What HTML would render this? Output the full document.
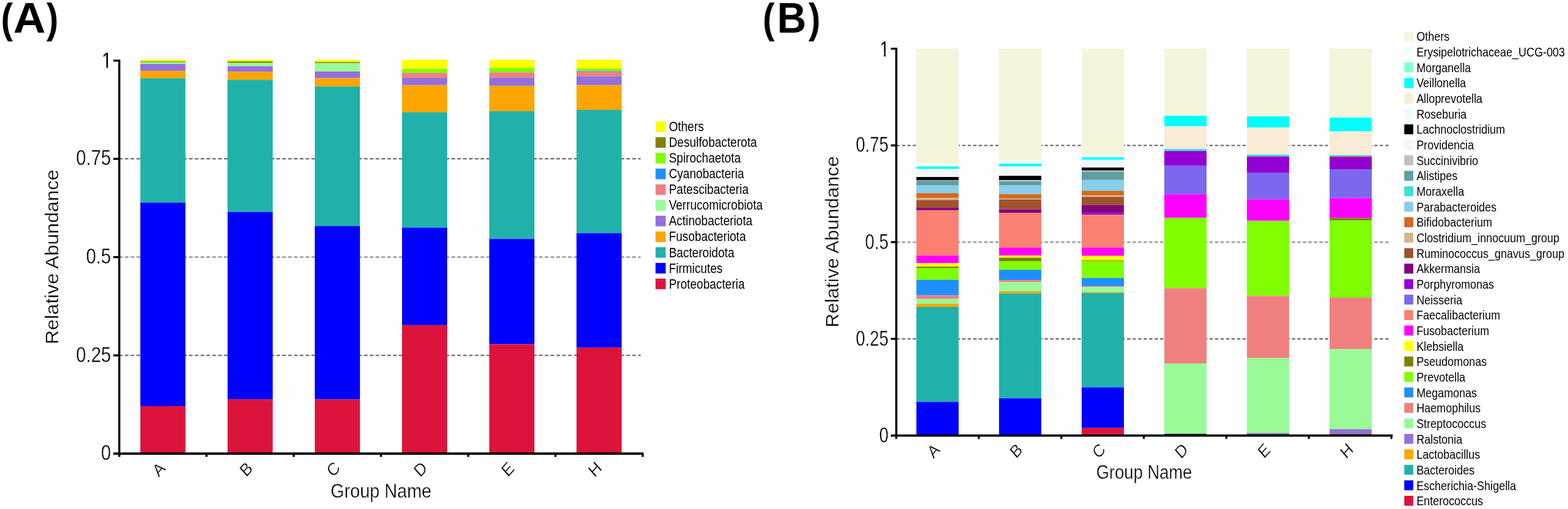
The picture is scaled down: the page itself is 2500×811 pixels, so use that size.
<!DOCTYPE html>
<html lang="en">
<head>
<meta charset="utf-8">
<title>Relative abundance of gut microbiota by group</title>
<style>
html,body{margin:0;padding:0;background:#fff;}
body{width:2500px;height:811px;overflow:hidden;}
svg{display:block;font-family:"Liberation Sans",sans-serif;}
svg rect{shape-rendering:auto;}
</style>
</head>
<body>
<svg width="2500" height="811" viewBox="0 0 2500 811">
<rect x="0" y="0" width="2500" height="811" fill="#ffffff"/>
<g id="chartA">
<line x1="189.60" y1="253.10" x2="1021.50" y2="253.10" stroke="#666666" stroke-width="2.0" stroke-dasharray="5.9 3.4"/>
<line x1="189.60" y1="409.65" x2="1021.50" y2="409.65" stroke="#a2a2a2" stroke-width="2.8" stroke-dasharray="5.9 3.4"/>
<line x1="189.60" y1="566.20" x2="1021.50" y2="566.20" stroke="#666666" stroke-width="2.0" stroke-dasharray="5.9 3.4"/>
<rect x="223.70" y="95.10" width="72.00" height="2.90" fill="#FFFF00"/>
<rect x="223.70" y="98.00" width="72.00" height="1.10" fill="#808000"/>
<rect x="223.70" y="99.10" width="72.00" height="2.90" fill="#98FB98"/>
<rect x="223.70" y="102.00" width="72.00" height="10.90" fill="#9370DB"/>
<rect x="223.70" y="112.90" width="72.00" height="11.90" fill="#FFA500"/>
<rect x="223.70" y="124.80" width="72.00" height="198.10" fill="#20B2AA"/>
<rect x="223.70" y="322.90" width="72.00" height="324.10" fill="#0000FF"/>
<rect x="223.70" y="647.00" width="72.00" height="75.75" fill="#DC143C"/>
<rect x="362.80" y="95.10" width="72.00" height="2.90" fill="#FFFF00"/>
<rect x="362.80" y="98.00" width="72.00" height="2.10" fill="#808000"/>
<rect x="362.80" y="100.10" width="72.00" height="5.40" fill="#98FB98"/>
<rect x="362.80" y="105.50" width="72.00" height="9.00" fill="#9370DB"/>
<rect x="362.80" y="114.50" width="72.00" height="12.70" fill="#FFA500"/>
<rect x="362.80" y="127.20" width="72.00" height="210.50" fill="#20B2AA"/>
<rect x="362.80" y="337.70" width="72.00" height="298.40" fill="#0000FF"/>
<rect x="362.80" y="636.10" width="72.00" height="86.65" fill="#DC143C"/>
<rect x="501.90" y="95.10" width="72.00" height="3.70" fill="#FFFF00"/>
<rect x="501.90" y="98.80" width="72.00" height="1.80" fill="#808000"/>
<rect x="501.90" y="100.60" width="72.00" height="13.40" fill="#98FB98"/>
<rect x="501.90" y="114.00" width="72.00" height="10.50" fill="#9370DB"/>
<rect x="501.90" y="124.50" width="72.00" height="13.30" fill="#FFA500"/>
<rect x="501.90" y="137.80" width="72.00" height="222.40" fill="#20B2AA"/>
<rect x="501.90" y="360.20" width="72.00" height="276.20" fill="#0000FF"/>
<rect x="501.90" y="636.40" width="72.00" height="86.35" fill="#DC143C"/>
<rect x="641.00" y="95.10" width="72.00" height="14.60" fill="#FFFF00"/>
<rect x="641.00" y="109.70" width="72.00" height="6.40" fill="#7FFF00"/>
<rect x="641.00" y="116.10" width="72.00" height="7.90" fill="#F08080"/>
<rect x="641.00" y="124.00" width="72.00" height="11.70" fill="#9370DB"/>
<rect x="641.00" y="135.70" width="72.00" height="43.30" fill="#FFA500"/>
<rect x="641.00" y="179.00" width="72.00" height="183.70" fill="#20B2AA"/>
<rect x="641.00" y="362.70" width="72.00" height="155.20" fill="#0000FF"/>
<rect x="641.00" y="517.90" width="72.00" height="204.85" fill="#DC143C"/>
<rect x="780.10" y="95.10" width="72.00" height="12.90" fill="#FFFF00"/>
<rect x="780.10" y="108.00" width="72.00" height="7.30" fill="#7FFF00"/>
<rect x="780.10" y="115.30" width="72.00" height="8.40" fill="#F08080"/>
<rect x="780.10" y="123.70" width="72.00" height="13.10" fill="#9370DB"/>
<rect x="780.10" y="136.80" width="72.00" height="40.30" fill="#FFA500"/>
<rect x="780.10" y="177.10" width="72.00" height="203.50" fill="#20B2AA"/>
<rect x="780.10" y="380.60" width="72.00" height="167.90" fill="#0000FF"/>
<rect x="780.10" y="548.50" width="72.00" height="174.25" fill="#DC143C"/>
<rect x="919.20" y="95.10" width="72.00" height="13.80" fill="#FFFF00"/>
<rect x="919.20" y="108.90" width="72.00" height="4.50" fill="#7FFF00"/>
<rect x="919.20" y="113.40" width="72.00" height="1.40" fill="#7B68EE"/>
<rect x="919.20" y="114.80" width="72.00" height="6.60" fill="#F08080"/>
<rect x="919.20" y="121.40" width="72.00" height="14.30" fill="#9370DB"/>
<rect x="919.20" y="135.70" width="72.00" height="39.30" fill="#FFA500"/>
<rect x="919.20" y="175.00" width="72.00" height="196.50" fill="#20B2AA"/>
<rect x="919.20" y="371.50" width="72.00" height="182.30" fill="#0000FF"/>
<rect x="919.20" y="553.80" width="72.00" height="168.95" fill="#DC143C"/>
<rect x="188.45" y="94.95" width="3.40" height="629.70" fill="#000"/>
<rect x="188.45" y="720.85" width="837.55" height="3.80" fill="#000"/>
<rect x="180.65" y="94.95" width="9.50" height="3.30" fill="#000"/>
<rect x="180.65" y="251.45" width="9.50" height="3.30" fill="#000"/>
<rect x="180.65" y="408.00" width="9.50" height="3.30" fill="#000"/>
<rect x="180.65" y="564.55" width="9.50" height="3.30" fill="#000"/>
<rect x="180.65" y="720.85" width="9.50" height="3.80" fill="#000"/>
<rect x="188.45" y="722.75" width="3.40" height="5.20" fill="#000"/>
<rect x="327.55" y="722.75" width="3.40" height="5.20" fill="#000"/>
<rect x="466.65" y="722.75" width="3.40" height="5.20" fill="#000"/>
<rect x="605.75" y="722.75" width="3.40" height="5.20" fill="#000"/>
<rect x="744.85" y="722.75" width="3.40" height="5.20" fill="#000"/>
<rect x="883.95" y="722.75" width="3.40" height="5.20" fill="#000"/>
<rect x="1023.05" y="722.75" width="3.40" height="5.20" fill="#000"/>
<text transform="translate(178.30 107.90) scale(0.803 1.0)" font-size="35.8" text-anchor="end" fill="#000">1</text>
<g transform="translate(178.30 107.90) scale(0.803 1)" fill="#fff"><rect x="-20.76" y="-4.65" width="9.74" height="6.09"/><rect x="-7.66" y="-4.65" width="8.95" height="6.09"/></g>
<text transform="translate(177.10 263.40) scale(0.803 1.0)" font-size="35.8" text-anchor="end" fill="#000" stroke="#fff" stroke-width="0.35" vector-effect="non-scaling-stroke">0.75</text>
<text transform="translate(177.10 419.95) scale(0.803 1.0)" font-size="35.8" text-anchor="end" fill="#000" stroke="#fff" stroke-width="0.35" vector-effect="non-scaling-stroke">0.5</text>
<text transform="translate(177.10 576.50) scale(0.803 1.0)" font-size="35.8" text-anchor="end" fill="#000" stroke="#fff" stroke-width="0.35" vector-effect="non-scaling-stroke">0.25</text>
<text transform="translate(177.10 733.05) scale(0.803 1.0)" font-size="35.8" text-anchor="end" fill="#000" stroke="#fff" stroke-width="0.35" vector-effect="non-scaling-stroke">0</text>
<text transform="translate(259.25 754.35) scale(0.9 1) rotate(-45)" font-size="28" text-anchor="middle" fill="#000" stroke="#fff" stroke-width="0.35" vector-effect="non-scaling-stroke">A</text>
<text transform="translate(398.35 754.35) scale(0.9 1) rotate(-45)" font-size="28" text-anchor="middle" fill="#000" stroke="#fff" stroke-width="0.35" vector-effect="non-scaling-stroke">B</text>
<text transform="translate(537.45 754.35) scale(0.9 1) rotate(-45)" font-size="28" text-anchor="middle" fill="#000" stroke="#fff" stroke-width="0.35" vector-effect="non-scaling-stroke">C</text>
<text transform="translate(676.55 754.35) scale(0.9 1) rotate(-45)" font-size="28" text-anchor="middle" fill="#000" stroke="#fff" stroke-width="0.35" vector-effect="non-scaling-stroke">D</text>
<text transform="translate(815.65 754.35) scale(0.9 1) rotate(-45)" font-size="28" text-anchor="middle" fill="#000" stroke="#fff" stroke-width="0.35" vector-effect="non-scaling-stroke">E</text>
<text transform="translate(954.75 754.35) scale(0.9 1) rotate(-45)" font-size="28" text-anchor="middle" fill="#000" stroke="#fff" stroke-width="0.35" vector-effect="non-scaling-stroke">H</text>
<text transform="translate(527.00 793.00) scale(0.893 1.0)" font-size="31.5" fill="#000" stroke="#fff" stroke-width="0.35" vector-effect="non-scaling-stroke">Group Name</text>
<text transform="translate(93.30 548.50) rotate(-90) scale(1.044 1.0)" font-size="30" fill="#000" stroke="#fff" stroke-width="0.35" vector-effect="non-scaling-stroke">Relative Abundance</text>
</g>
<g id="legendA">
<rect x="1045.20" y="193.60" width="16.20" height="16.90" fill="#FFFF00"/>
<text transform="translate(1066.40 208.90) scale(0.873 1.0)" font-size="21.3" fill="#000">Others</text>
<rect x="1045.20" y="218.63" width="16.20" height="16.90" fill="#808000"/>
<text transform="translate(1066.40 233.98) scale(0.873 1.0)" font-size="21.3" fill="#000">Desulfobacterota</text>
<rect x="1045.20" y="243.66" width="16.20" height="16.90" fill="#7FFF00"/>
<text transform="translate(1066.40 259.06) scale(0.873 1.0)" font-size="21.3" fill="#000">Spirochaetota</text>
<rect x="1045.20" y="268.69" width="16.20" height="16.90" fill="#1E90FF"/>
<text transform="translate(1066.40 284.14) scale(0.873 1.0)" font-size="21.3" fill="#000">Cyanobacteria</text>
<rect x="1045.20" y="293.72" width="16.20" height="16.90" fill="#F08080"/>
<text transform="translate(1066.40 309.22) scale(0.873 1.0)" font-size="21.3" fill="#000">Patescibacteria</text>
<rect x="1045.20" y="318.75" width="16.20" height="16.90" fill="#98FB98"/>
<text transform="translate(1066.40 334.30) scale(0.873 1.0)" font-size="21.3" fill="#000">Verrucomicrobiota</text>
<rect x="1045.20" y="343.78" width="16.20" height="16.90" fill="#9370DB"/>
<text transform="translate(1066.40 359.38) scale(0.873 1.0)" font-size="21.3" fill="#000">Actinobacteriota</text>
<rect x="1045.20" y="368.81" width="16.20" height="16.90" fill="#FFA500"/>
<text transform="translate(1066.40 384.46) scale(0.873 1.0)" font-size="21.3" fill="#000">Fusobacteriota</text>
<rect x="1045.20" y="393.84" width="16.20" height="16.90" fill="#20B2AA"/>
<text transform="translate(1066.40 409.54) scale(0.873 1.0)" font-size="21.3" fill="#000">Bacteroidota</text>
<rect x="1045.20" y="418.87" width="16.20" height="16.90" fill="#0000FF"/>
<text transform="translate(1066.40 434.62) scale(0.873 1.0)" font-size="21.3" fill="#000">Firmicutes</text>
<rect x="1045.20" y="443.90" width="16.20" height="16.90" fill="#DC143C"/>
<text transform="translate(1066.40 459.70) scale(0.873 1.0)" font-size="21.3" fill="#000">Proteobacteria</text>
</g>
<g id="chartB">
<line x1="1429.00" y1="231.70" x2="2216.50" y2="231.70" stroke="#666666" stroke-width="2.0" stroke-dasharray="5.4 3.36"/>
<line x1="1429.00" y1="385.80" x2="2216.50" y2="385.80" stroke="#a2a2a2" stroke-width="2.8" stroke-dasharray="5.4 3.36"/>
<line x1="1429.00" y1="539.90" x2="2216.50" y2="539.90" stroke="#666666" stroke-width="2.0" stroke-dasharray="5.4 3.36"/>
<rect x="1461.10" y="77.60" width="67.40" height="182.80" fill="#F5F5DC"/>
<rect x="1461.10" y="260.40" width="67.40" height="4.80" fill="#F0FFFF"/>
<rect x="1461.10" y="265.20" width="67.40" height="4.10" fill="#00FFFF"/>
<rect x="1461.10" y="269.30" width="67.40" height="12.70" fill="#F0F8FF"/>
<rect x="1461.10" y="282.00" width="67.40" height="5.30" fill="#000000"/>
<rect x="1461.10" y="287.30" width="67.40" height="0.80" fill="#BEBEBE"/>
<rect x="1461.10" y="288.10" width="67.40" height="7.50" fill="#5F9EA0"/>
<rect x="1461.10" y="295.60" width="67.40" height="12.10" fill="#87CEEB"/>
<rect x="1461.10" y="307.70" width="67.40" height="7.30" fill="#D2691E"/>
<rect x="1461.10" y="315.00" width="67.40" height="3.60" fill="#D2B48C"/>
<rect x="1461.10" y="318.60" width="67.40" height="12.50" fill="#A0522D"/>
<rect x="1461.10" y="331.10" width="67.40" height="3.80" fill="#800080"/>
<rect x="1461.10" y="334.90" width="67.40" height="72.30" fill="#FA8072"/>
<rect x="1461.10" y="407.20" width="67.40" height="12.20" fill="#FF00FF"/>
<rect x="1461.10" y="419.40" width="67.40" height="5.40" fill="#FFFF00"/>
<rect x="1461.10" y="424.80" width="67.40" height="2.30" fill="#808000"/>
<rect x="1461.10" y="427.10" width="67.40" height="18.70" fill="#7FFF00"/>
<rect x="1461.10" y="445.80" width="67.40" height="24.90" fill="#1E90FF"/>
<rect x="1461.10" y="470.70" width="67.40" height="5.40" fill="#F08080"/>
<rect x="1461.10" y="476.10" width="67.40" height="8.00" fill="#98FB98"/>
<rect x="1461.10" y="484.10" width="67.40" height="4.90" fill="#FFA500"/>
<rect x="1461.10" y="489.00" width="67.40" height="151.30" fill="#20B2AA"/>
<rect x="1461.10" y="640.30" width="67.40" height="53.70" fill="#0000FF"/>
<rect x="1592.84" y="77.60" width="67.40" height="178.40" fill="#F5F5DC"/>
<rect x="1592.84" y="256.00" width="67.40" height="4.80" fill="#F0FFFF"/>
<rect x="1592.84" y="260.80" width="67.40" height="4.20" fill="#00FFFF"/>
<rect x="1592.84" y="265.00" width="67.40" height="15.10" fill="#F0F8FF"/>
<rect x="1592.84" y="280.10" width="67.40" height="7.00" fill="#000000"/>
<rect x="1592.84" y="287.10" width="67.40" height="1.30" fill="#F0F8FF"/>
<rect x="1592.84" y="288.40" width="67.40" height="7.20" fill="#5F9EA0"/>
<rect x="1592.84" y="295.60" width="67.40" height="13.70" fill="#87CEEB"/>
<rect x="1592.84" y="309.30" width="67.40" height="6.70" fill="#D2691E"/>
<rect x="1592.84" y="316.00" width="67.40" height="1.80" fill="#D2B48C"/>
<rect x="1592.84" y="317.80" width="67.40" height="15.80" fill="#A0522D"/>
<rect x="1592.84" y="333.60" width="67.40" height="5.50" fill="#800080"/>
<rect x="1592.84" y="339.10" width="67.40" height="55.30" fill="#FA8072"/>
<rect x="1592.84" y="394.40" width="67.40" height="12.80" fill="#FF00FF"/>
<rect x="1592.84" y="407.20" width="67.40" height="3.40" fill="#FFFF00"/>
<rect x="1592.84" y="410.60" width="67.40" height="5.40" fill="#808000"/>
<rect x="1592.84" y="416.00" width="67.40" height="13.80" fill="#7FFF00"/>
<rect x="1592.84" y="429.80" width="67.40" height="16.20" fill="#1E90FF"/>
<rect x="1592.84" y="446.00" width="67.40" height="3.50" fill="#F08080"/>
<rect x="1592.84" y="449.50" width="67.40" height="14.60" fill="#98FB98"/>
<rect x="1592.84" y="464.10" width="67.40" height="3.40" fill="#FFA500"/>
<rect x="1592.84" y="467.50" width="67.40" height="167.00" fill="#20B2AA"/>
<rect x="1592.84" y="634.50" width="67.40" height="59.50" fill="#0000FF"/>
<rect x="1724.58" y="77.60" width="67.40" height="169.10" fill="#F5F5DC"/>
<rect x="1724.58" y="246.70" width="67.40" height="3.90" fill="#F0FFFF"/>
<rect x="1724.58" y="250.60" width="67.40" height="4.10" fill="#00FFFF"/>
<rect x="1724.58" y="254.70" width="67.40" height="12.20" fill="#F0F8FF"/>
<rect x="1724.58" y="266.90" width="67.40" height="4.80" fill="#000000"/>
<rect x="1724.58" y="271.70" width="67.40" height="2.00" fill="#BEBEBE"/>
<rect x="1724.58" y="273.70" width="67.40" height="13.10" fill="#5F9EA0"/>
<rect x="1724.58" y="286.80" width="67.40" height="17.30" fill="#87CEEB"/>
<rect x="1724.58" y="304.10" width="67.40" height="7.20" fill="#D2691E"/>
<rect x="1724.58" y="311.30" width="67.40" height="2.40" fill="#D2B48C"/>
<rect x="1724.58" y="313.70" width="67.40" height="13.20" fill="#A0522D"/>
<rect x="1724.58" y="326.90" width="67.40" height="12.50" fill="#800080"/>
<rect x="1724.58" y="339.40" width="67.40" height="2.90" fill="#9400D3"/>
<rect x="1724.58" y="342.30" width="67.40" height="52.10" fill="#FA8072"/>
<rect x="1724.58" y="394.40" width="67.40" height="13.30" fill="#FF00FF"/>
<rect x="1724.58" y="407.70" width="67.40" height="7.30" fill="#FFFF00"/>
<rect x="1724.58" y="415.00" width="67.40" height="1.20" fill="#808000"/>
<rect x="1724.58" y="416.20" width="67.40" height="26.70" fill="#7FFF00"/>
<rect x="1724.58" y="442.90" width="67.40" height="13.00" fill="#1E90FF"/>
<rect x="1724.58" y="455.90" width="67.40" height="1.50" fill="#F08080"/>
<rect x="1724.58" y="457.40" width="67.40" height="7.80" fill="#98FB98"/>
<rect x="1724.58" y="465.20" width="67.40" height="1.60" fill="#FFA500"/>
<rect x="1724.58" y="466.80" width="67.40" height="150.40" fill="#20B2AA"/>
<rect x="1724.58" y="617.20" width="67.40" height="64.60" fill="#0000FF"/>
<rect x="1724.58" y="681.80" width="67.40" height="12.20" fill="#DC143C"/>
<rect x="1856.32" y="77.60" width="67.40" height="106.80" fill="#F5F5DC"/>
<rect x="1856.32" y="184.40" width="67.40" height="17.00" fill="#00FFFF"/>
<rect x="1856.32" y="201.40" width="67.40" height="36.00" fill="#FAEBD7"/>
<rect x="1856.32" y="237.40" width="67.40" height="3.10" fill="#40E0D0"/>
<rect x="1856.32" y="240.50" width="67.40" height="23.40" fill="#9400D3"/>
<rect x="1856.32" y="263.90" width="67.40" height="45.90" fill="#7B68EE"/>
<rect x="1856.32" y="309.80" width="67.40" height="37.10" fill="#FF00FF"/>
<rect x="1856.32" y="346.90" width="67.40" height="112.30" fill="#7FFF00"/>
<rect x="1856.32" y="459.20" width="67.40" height="120.00" fill="#F08080"/>
<rect x="1856.32" y="579.20" width="67.40" height="112.00" fill="#98FB98"/>
<rect x="1856.32" y="691.20" width="67.40" height="2.80" fill="#2a1545"/>
<rect x="1988.06" y="77.60" width="67.40" height="107.70" fill="#F5F5DC"/>
<rect x="1988.06" y="185.30" width="67.40" height="18.00" fill="#00FFFF"/>
<rect x="1988.06" y="203.30" width="67.40" height="43.00" fill="#FAEBD7"/>
<rect x="1988.06" y="246.30" width="67.40" height="3.00" fill="#40E0D0"/>
<rect x="1988.06" y="249.30" width="67.40" height="25.70" fill="#9400D3"/>
<rect x="1988.06" y="275.00" width="67.40" height="42.50" fill="#7B68EE"/>
<rect x="1988.06" y="317.50" width="67.40" height="34.30" fill="#FF00FF"/>
<rect x="1988.06" y="351.80" width="67.40" height="119.60" fill="#7FFF00"/>
<rect x="1988.06" y="471.40" width="67.40" height="99.00" fill="#F08080"/>
<rect x="1988.06" y="570.40" width="67.40" height="119.50" fill="#98FB98"/>
<rect x="1988.06" y="689.90" width="67.40" height="1.70" fill="#9370DB"/>
<rect x="1988.06" y="691.60" width="67.40" height="2.40" fill="#143a2e"/>
<rect x="2119.80" y="77.60" width="67.40" height="109.70" fill="#F5F5DC"/>
<rect x="2119.80" y="187.30" width="67.40" height="22.10" fill="#00FFFF"/>
<rect x="2119.80" y="209.40" width="67.40" height="37.70" fill="#FAEBD7"/>
<rect x="2119.80" y="247.10" width="67.40" height="1.90" fill="#40E0D0"/>
<rect x="2119.80" y="249.00" width="67.40" height="1.10" fill="#D2691E"/>
<rect x="2119.80" y="250.10" width="67.40" height="20.20" fill="#9400D3"/>
<rect x="2119.80" y="270.30" width="67.40" height="45.30" fill="#7B68EE"/>
<rect x="2119.80" y="315.60" width="67.40" height="31.70" fill="#FF00FF"/>
<rect x="2119.80" y="347.30" width="67.40" height="4.00" fill="#808000"/>
<rect x="2119.80" y="351.30" width="67.40" height="122.80" fill="#7FFF00"/>
<rect x="2119.80" y="474.10" width="67.40" height="82.10" fill="#F08080"/>
<rect x="2119.80" y="556.20" width="67.40" height="127.60" fill="#98FB98"/>
<rect x="2119.80" y="683.80" width="67.40" height="7.70" fill="#9370DB"/>
<rect x="2119.80" y="691.50" width="67.40" height="2.50" fill="#5a3005"/>
<rect x="1427.35" y="76.00" width="3.30" height="619.75" fill="#000"/>
<rect x="1427.35" y="692.25" width="793.15" height="3.50" fill="#000"/>
<rect x="1420.40" y="76.00" width="8.60" height="3.20" fill="#000"/>
<rect x="1420.40" y="230.10" width="8.60" height="3.20" fill="#000"/>
<rect x="1420.40" y="384.20" width="8.60" height="3.20" fill="#000"/>
<rect x="1420.40" y="538.30" width="8.60" height="3.20" fill="#000"/>
<rect x="1420.40" y="692.25" width="8.60" height="3.50" fill="#000"/>
<rect x="1427.45" y="694.00" width="3.10" height="5.40" fill="#000"/>
<rect x="1559.02" y="694.00" width="3.10" height="5.40" fill="#000"/>
<rect x="1690.59" y="694.00" width="3.10" height="5.40" fill="#000"/>
<rect x="1822.16" y="694.00" width="3.10" height="5.40" fill="#000"/>
<rect x="1953.73" y="694.00" width="3.10" height="5.40" fill="#000"/>
<rect x="2085.30" y="694.00" width="3.10" height="5.40" fill="#000"/>
<rect x="2216.87" y="694.00" width="3.10" height="5.40" fill="#000"/>
<text transform="translate(1417.70 89.50) scale(0.768 1.0)" font-size="34.8" text-anchor="end" fill="#000">1</text>
<g transform="translate(1417.70 89.50) scale(0.768 1)" fill="#fff"><rect x="-20.18" y="-4.52" width="9.47" height="5.92"/><rect x="-7.45" y="-4.52" width="8.70" height="5.92"/></g>
<text transform="translate(1416.50 242.40) scale(0.768 1.0)" font-size="34.8" text-anchor="end" fill="#000" stroke="#fff" stroke-width="0.35" vector-effect="non-scaling-stroke">0.75</text>
<text transform="translate(1416.50 396.50) scale(0.768 1.0)" font-size="34.8" text-anchor="end" fill="#000" stroke="#fff" stroke-width="0.35" vector-effect="non-scaling-stroke">0.5</text>
<text transform="translate(1416.50 550.60) scale(0.768 1.0)" font-size="34.8" text-anchor="end" fill="#000" stroke="#fff" stroke-width="0.35" vector-effect="non-scaling-stroke">0.25</text>
<text transform="translate(1416.50 704.70) scale(0.768 1.0)" font-size="34.8" text-anchor="end" fill="#000" stroke="#fff" stroke-width="0.35" vector-effect="non-scaling-stroke">0</text>
<text transform="translate(1494.35 725.00) scale(0.87 1) rotate(-45)" font-size="28" text-anchor="middle" fill="#000" stroke="#fff" stroke-width="0.35" vector-effect="non-scaling-stroke">A</text>
<text transform="translate(1626.09 725.00) scale(0.87 1) rotate(-45)" font-size="28" text-anchor="middle" fill="#000" stroke="#fff" stroke-width="0.35" vector-effect="non-scaling-stroke">B</text>
<text transform="translate(1757.83 725.00) scale(0.87 1) rotate(-45)" font-size="28" text-anchor="middle" fill="#000" stroke="#fff" stroke-width="0.35" vector-effect="non-scaling-stroke">C</text>
<text transform="translate(1889.57 725.00) scale(0.87 1) rotate(-45)" font-size="28" text-anchor="middle" fill="#000" stroke="#fff" stroke-width="0.35" vector-effect="non-scaling-stroke">D</text>
<text transform="translate(2021.31 725.00) scale(0.87 1) rotate(-45)" font-size="28" text-anchor="middle" fill="#000" stroke="#fff" stroke-width="0.35" vector-effect="non-scaling-stroke">E</text>
<text transform="translate(2153.05 725.00) scale(0.87 1) rotate(-45)" font-size="28" text-anchor="middle" fill="#000" stroke="#fff" stroke-width="0.35" vector-effect="non-scaling-stroke">H</text>
<text transform="translate(1747.80 763.00) scale(0.848 1.0)" font-size="31.5" fill="#000" stroke="#fff" stroke-width="0.35" vector-effect="non-scaling-stroke">Group Name</text>
<text transform="translate(1337.40 521.80) rotate(-90) scale(1.024 1.0)" font-size="30" fill="#000" stroke="#fff" stroke-width="0.35" vector-effect="non-scaling-stroke">Relative Abundance</text>
</g>
<g id="legendB">
<rect x="2239.00" y="50.20" width="14.30" height="15.80" fill="#F5F5DC"/>
<text transform="translate(2258.40 65.40) scale(0.868 1.0)" font-size="20.2" fill="#000">Others</text>
<rect x="2239.00" y="74.86" width="14.30" height="15.80" fill="#F0FFFF"/>
<text transform="translate(2258.40 90.06) scale(0.868 1.0)" font-size="20.2" fill="#000">Erysipelotrichaceae_UCG-003</text>
<rect x="2239.00" y="99.52" width="14.30" height="15.80" fill="#7FFFD4"/>
<text transform="translate(2258.40 114.72) scale(0.868 1.0)" font-size="20.2" fill="#000">Morganella</text>
<rect x="2239.00" y="124.18" width="14.30" height="15.80" fill="#00FFFF"/>
<text transform="translate(2258.40 139.38) scale(0.868 1.0)" font-size="20.2" fill="#000">Veillonella</text>
<rect x="2239.00" y="148.84" width="14.30" height="15.80" fill="#FAEBD7"/>
<text transform="translate(2258.40 164.04) scale(0.868 1.0)" font-size="20.2" fill="#000">Alloprevotella</text>
<rect x="2239.00" y="173.50" width="14.30" height="15.80" fill="#F0F8FF"/>
<text transform="translate(2258.40 188.70) scale(0.868 1.0)" font-size="20.2" fill="#000">Roseburia</text>
<rect x="2239.00" y="198.16" width="14.30" height="15.80" fill="#000000"/>
<text transform="translate(2258.40 213.36) scale(0.868 1.0)" font-size="20.2" fill="#000">Lachnoclostridium</text>
<rect x="2239.00" y="222.82" width="14.30" height="15.80" fill="#F0F8FF"/>
<text transform="translate(2258.40 238.02) scale(0.868 1.0)" font-size="20.2" fill="#000">Providencia</text>
<rect x="2239.00" y="247.48" width="14.30" height="15.80" fill="#BEBEBE"/>
<text transform="translate(2258.40 262.68) scale(0.868 1.0)" font-size="20.2" fill="#000">Succinivibrio</text>
<rect x="2239.00" y="272.14" width="14.30" height="15.80" fill="#5F9EA0"/>
<text transform="translate(2258.40 287.34) scale(0.868 1.0)" font-size="20.2" fill="#000">Alistipes</text>
<rect x="2239.00" y="296.80" width="14.30" height="15.80" fill="#40E0D0"/>
<text transform="translate(2258.40 312.00) scale(0.868 1.0)" font-size="20.2" fill="#000">Moraxella</text>
<rect x="2239.00" y="321.46" width="14.30" height="15.80" fill="#87CEEB"/>
<text transform="translate(2258.40 336.66) scale(0.868 1.0)" font-size="20.2" fill="#000">Parabacteroides</text>
<rect x="2239.00" y="346.12" width="14.30" height="15.80" fill="#D2691E"/>
<text transform="translate(2258.40 361.32) scale(0.868 1.0)" font-size="20.2" fill="#000">Bifidobacterium</text>
<rect x="2239.00" y="370.78" width="14.30" height="15.80" fill="#D2B48C"/>
<text transform="translate(2258.40 385.98) scale(0.868 1.0)" font-size="20.2" fill="#000">Clostridium_innocuum_group</text>
<rect x="2239.00" y="395.44" width="14.30" height="15.80" fill="#A0522D"/>
<text transform="translate(2258.40 410.64) scale(0.868 1.0)" font-size="20.2" fill="#000">Ruminococcus_gnavus_group</text>
<rect x="2239.00" y="420.10" width="14.30" height="15.80" fill="#800080"/>
<text transform="translate(2258.40 435.30) scale(0.868 1.0)" font-size="20.2" fill="#000">Akkermansia</text>
<rect x="2239.00" y="444.76" width="14.30" height="15.80" fill="#9400D3"/>
<text transform="translate(2258.40 459.96) scale(0.868 1.0)" font-size="20.2" fill="#000">Porphyromonas</text>
<rect x="2239.00" y="469.42" width="14.30" height="15.80" fill="#7B68EE"/>
<text transform="translate(2258.40 484.62) scale(0.868 1.0)" font-size="20.2" fill="#000">Neisseria</text>
<rect x="2239.00" y="494.08" width="14.30" height="15.80" fill="#FA8072"/>
<text transform="translate(2258.40 509.28) scale(0.868 1.0)" font-size="20.2" fill="#000">Faecalibacterium</text>
<rect x="2239.00" y="518.74" width="14.30" height="15.80" fill="#FF00FF"/>
<text transform="translate(2258.40 533.94) scale(0.868 1.0)" font-size="20.2" fill="#000">Fusobacterium</text>
<rect x="2239.00" y="543.40" width="14.30" height="15.80" fill="#FFFF00"/>
<text transform="translate(2258.40 558.60) scale(0.868 1.0)" font-size="20.2" fill="#000">Klebsiella</text>
<rect x="2239.00" y="568.06" width="14.30" height="15.80" fill="#808000"/>
<text transform="translate(2258.40 583.26) scale(0.868 1.0)" font-size="20.2" fill="#000">Pseudomonas</text>
<rect x="2239.00" y="592.72" width="14.30" height="15.80" fill="#7FFF00"/>
<text transform="translate(2258.40 607.92) scale(0.868 1.0)" font-size="20.2" fill="#000">Prevotella</text>
<rect x="2239.00" y="617.38" width="14.30" height="15.80" fill="#1E90FF"/>
<text transform="translate(2258.40 632.58) scale(0.868 1.0)" font-size="20.2" fill="#000">Megamonas</text>
<rect x="2239.00" y="642.04" width="14.30" height="15.80" fill="#F08080"/>
<text transform="translate(2258.40 657.24) scale(0.868 1.0)" font-size="20.2" fill="#000">Haemophilus</text>
<rect x="2239.00" y="666.70" width="14.30" height="15.80" fill="#98FB98"/>
<text transform="translate(2258.40 681.90) scale(0.868 1.0)" font-size="20.2" fill="#000">Streptococcus</text>
<rect x="2239.00" y="691.36" width="14.30" height="15.80" fill="#9370DB"/>
<text transform="translate(2258.40 706.56) scale(0.868 1.0)" font-size="20.2" fill="#000">Ralstonia</text>
<rect x="2239.00" y="716.02" width="14.30" height="15.80" fill="#FFA500"/>
<text transform="translate(2258.40 731.22) scale(0.868 1.0)" font-size="20.2" fill="#000">Lactobacillus</text>
<rect x="2239.00" y="740.68" width="14.30" height="15.80" fill="#20B2AA"/>
<text transform="translate(2258.40 755.88) scale(0.868 1.0)" font-size="20.2" fill="#000">Bacteroides</text>
<rect x="2239.00" y="765.34" width="14.30" height="15.80" fill="#0000FF"/>
<text transform="translate(2258.40 780.54) scale(0.868 1.0)" font-size="20.2" fill="#000">Escherichia-Shigella</text>
<rect x="2239.00" y="790.00" width="14.30" height="15.80" fill="#DC143C"/>
<text transform="translate(2258.40 805.20) scale(0.868 1.0)" font-size="20.2" fill="#000">Enterococcus</text>
</g>
<g id="panelLabels" font-weight="bold" fill="#000">
<text y="52.3"><tspan x="1.4" y="52.2" font-size="66" textLength="19.08" lengthAdjust="spacingAndGlyphs">(</tspan><tspan x="21.3" y="52.3" font-size="67.9" textLength="51.43" lengthAdjust="spacingAndGlyphs">A</tspan><tspan x="74.0" y="52.2" font-size="66" textLength="19.08" lengthAdjust="spacingAndGlyphs">)</tspan></text>
<text y="52.3"><tspan x="1215.9" y="52.2" font-size="66" textLength="19.08" lengthAdjust="spacingAndGlyphs">(</tspan><tspan x="1239.1" y="52.3" font-size="67.9" textLength="46.47" lengthAdjust="spacingAndGlyphs">B</tspan><tspan x="1289.0" y="52.2" font-size="66" textLength="19.08" lengthAdjust="spacingAndGlyphs">)</tspan></text>
</g>
</svg>
</body>
</html>
